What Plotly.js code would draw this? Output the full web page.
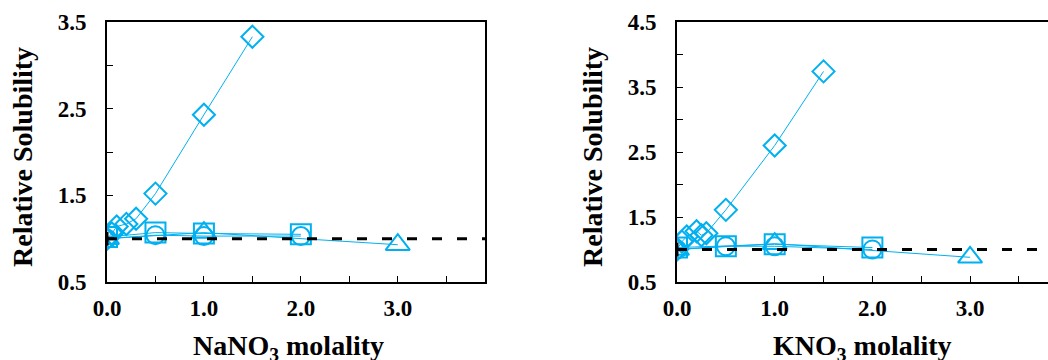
<!DOCTYPE html>
<html>
<head>
<meta charset="utf-8">
<script src="https://cdn.plot.ly/plotly-3.0.1.min.js"></script>
<style>
html,body{margin:0;padding:0;overflow:hidden;background:#fff;}
#chart{width:1060px;height:360px;}
</style>
</head>
<body>
<div id="chart"></div>
<script>
// ---- NaNO3 panel data ----
const naDiamX = [0, 0.05, 0.1, 0.2, 0.3, 0.5, 1.0, 1.5];
const naDiamY = [1.0, 1.06, 1.14, 1.17, 1.23, 1.52, 2.43, 3.33];
const naSqX = [0, 0.5, 1.0, 2.0];
const naSqY = [1.02, 1.07, 1.06, 1.05];
const naCircX = [0, 0.5, 1.0, 2.0];
const naCircY = [1.0, 1.04, 1.03, 1.03];
const naTriX = [0, 1.0, 3.0];
const naTriY = [1.0, 1.07, 0.93];

// ---- KNO3 panel data ----
const kDiamX = [0, 0.05, 0.1, 0.2, 0.25, 0.3, 0.5, 1.0, 1.5];
const kDiamY = [1.0, 1.12, 1.2, 1.28, 1.22, 1.25, 1.61, 2.6, 3.74];
const kSqX = [0, 0.5, 1.0, 2.0];
const kSqY = [1.03, 1.05, 1.08, 1.03];
const kCircX = [0, 0.5, 1.0, 2.0];
const kCircY = [1.0, 1.05, 1.05, 1.0];
const kTriX = [0, 1.0, 3.0];
const kTriY = [1.0, 1.09, 0.88];

// reference line (relative solubility = 1)
const refY = 1.0;
const originX = [0];
const originY = [1.0];

// ticks
const xTickVals = [0, 0.5, 1.0, 1.5, 2.0, 2.5, 3.0, 3.5];
const xTickText = ["0.0", "", "1.0", "", "2.0", "", "3.0", ""];
const y1TickVals = [0.5, 1.0, 1.5, 2.0, 2.5, 3.0, 3.5];
const y1TickText = ["0.5", "", "1.5", "", "2.5", "", "3.5"];
const y2TickVals = [0.5, 1.0, 1.5, 2.0, 2.5, 3.0, 3.5, 4.0, 4.5];
const y2TickText = ["0.5", "", "1.5", "", "2.5", "", "3.5", "", "4.5"];

const blue = '#00B0F0';
const W = 1060, H = 360;
const fontFam = '"Liberation Serif", "Times New Roman", serif';

function series(x, y, symbol, size, xa, ya) {
  return {
    x: x, y: y, xaxis: xa, yaxis: ya, type: 'scatter', mode: 'lines+markers',
    line: {color: blue, width: 1},
    marker: {symbol: symbol, size: size, color: blue, line: {color: blue, width: 2}},
    showlegend: false, hoverinfo: 'x+y'
  };
}
function originMark(xa, ya) {
  return {x: originX, y: originY, xaxis: xa, yaxis: ya, type: 'scatter', mode: 'markers',
    marker: {symbol: 'cross-thin', size: 10, color: '#000', line: {color: '#000', width: 3}}, showlegend: false};
}

const data = [
  series(naTriX, naTriY, 'triangle-up-open', 21, 'x', 'y'),
  series(naCircX, naCircY, 'circle-open', 18, 'x', 'y'),
  series(naSqX, naSqY, 'square-open', 20, 'x', 'y'),
  series(naDiamX, naDiamY, 'diamond-open', 17, 'x', 'y'),
  originMark('x', 'y'),
  series(kTriX, kTriY, 'triangle-up-open', 21, 'x2', 'y2'),
  series(kCircX, kCircY, 'circle-open', 18, 'x2', 'y2'),
  series(kSqX, kSqY, 'square-open', 20, 'x2', 'y2'),
  series(kDiamX, kDiamY, 'diamond-open', 17, 'x2', 'y2'),
  originMark('x2', 'y2')
];

const tickFont = {family: fontFam, size: 23, color: '#000', weight: 'bold'};
const yDom = [(H - 282) / H, (H - 22) / H];

function xAxis(dom, anchor) {
  return {
    domain: dom, anchor: anchor, range: [0, 3.9], tickmode: 'array',
    tickvals: xTickVals, ticktext: xTickText, ticks: 'inside', ticklen: 6, tickwidth: 1,
    tickcolor: '#000', showline: true, linecolor: '#000', linewidth: 2, mirror: true,
    showgrid: false, zeroline: false, tickfont: tickFont, ticklabelstandoff: 4
  };
}
function yAxis(range, vals, text, anchor) {
  return {
    domain: yDom, anchor: anchor, range: range, tickmode: 'array',
    tickvals: vals, ticktext: text, ticks: 'inside', ticklen: 6, tickwidth: 1,
    tickcolor: '#000', showline: true, linecolor: '#000', linewidth: 2, mirror: true,
    showgrid: false, zeroline: false, tickfont: tickFont, ticklabelstandoff: 14
  };
}

const titleFont = {family: fontFam, size: 28, color: '#000', weight: 'bold'};

const layout = {
  width: W, height: H,
  margin: {l: 0, r: 0, t: 0, b: 0},
  paper_bgcolor: '#fff', plot_bgcolor: '#fff',
  xaxis: xAxis([107 / W, 485 / W], 'y'),
  yaxis: yAxis([0.5, 3.5], y1TickVals, y1TickText, 'x'),
  xaxis2: xAxis([677 / W, 1058 / W], 'y2'),
  yaxis2: yAxis([0.5, 4.5], y2TickVals, y2TickText, 'x2'),
  shapes: [
    {type: 'line', xref: 'x domain', yref: 'y', x0: 0, x1: 1, y0: refY, y1: refY,
     line: {color: '#000', width: 3, dash: '10px,15px'}},
    {type: 'line', xref: 'x2 domain', yref: 'y2', x0: 0, x1: 1, y0: refY, y1: refY,
     line: {color: '#000', width: 3, dash: '10px,15px'}}
  ],
  annotations: [
    {text: 'Relative Solubility', xref: 'paper', yref: 'paper', x: 22 / W, y: 1 - 157 / H,
     textangle: -90, showarrow: false, xanchor: 'center', yanchor: 'middle', font: titleFont},
    {text: 'Relative Solubility', xref: 'paper', yref: 'paper', x: 592 / W, y: 1 - 157 / H,
     textangle: -90, showarrow: false, xanchor: 'center', yanchor: 'middle', font: titleFont},
    {text: 'NaNO<sub>3</sub> molality', xref: 'paper', yref: 'paper', x: 288 / W, y: 1 - 347 / H,
     showarrow: false, xanchor: 'center', yanchor: 'middle', font: titleFont},
    {text: 'KNO<sub>3</sub> molality', xref: 'paper', yref: 'paper', x: 862 / W, y: 1 - 347 / H,
     showarrow: false, xanchor: 'center', yanchor: 'middle', font: titleFont}
  ]
};

Plotly.newPlot('chart', data, layout, {displayModeBar: false, staticPlot: true});
</script>
</body>
</html>
